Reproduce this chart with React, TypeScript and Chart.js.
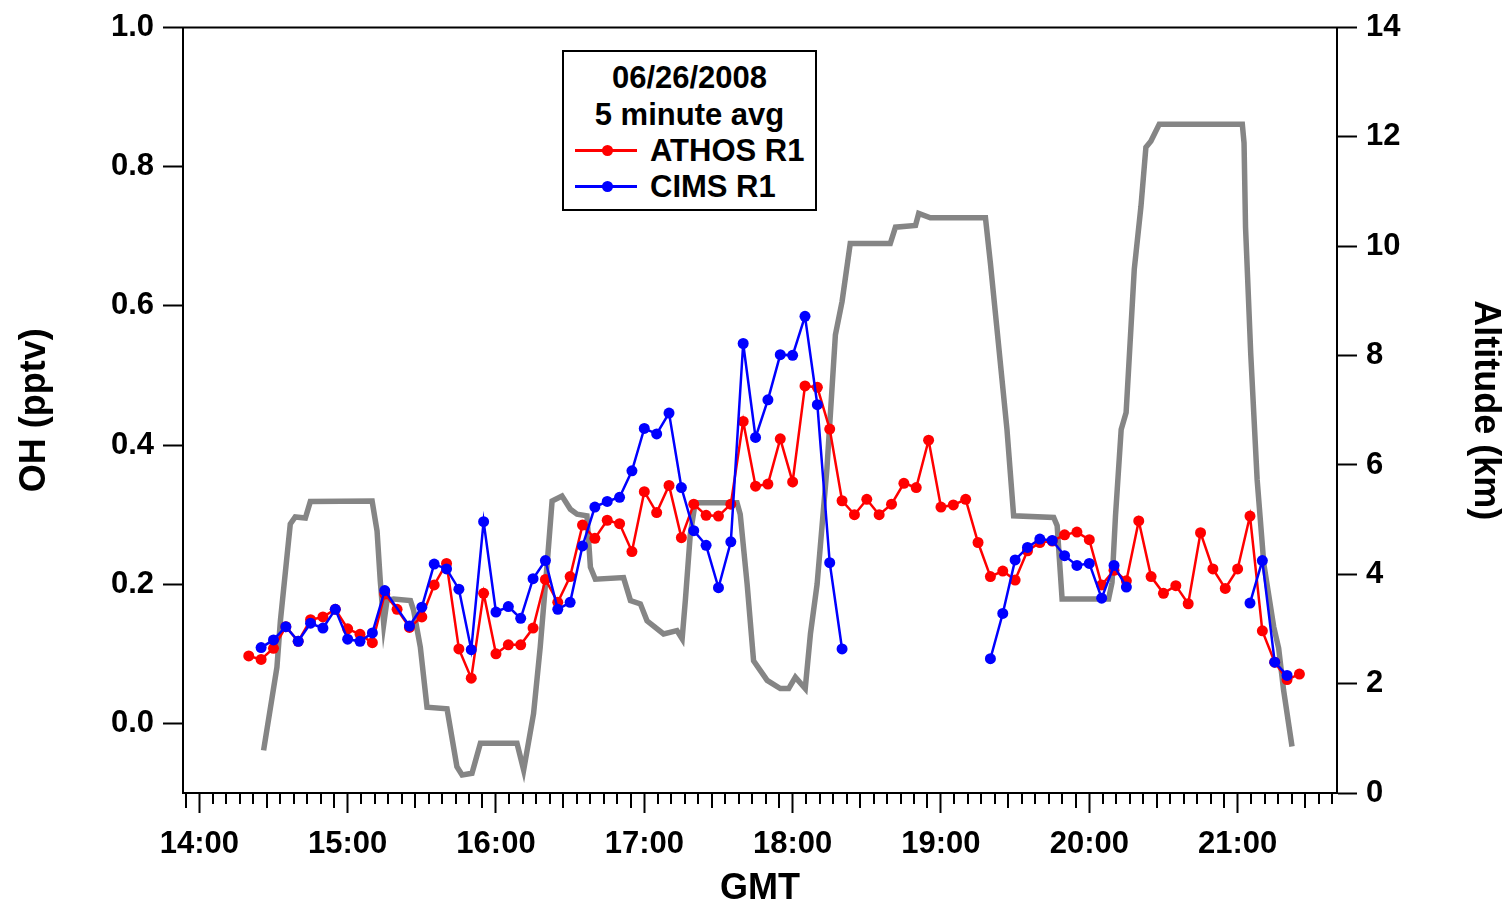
import React, { useEffect, useRef } from "react";
import { Chart, registerables } from "chart.js";

Chart.register(...registerables);

// ---- data ----
const ohTimes = [
  "14:20", "14:25", "14:30", "14:35", "14:40", "14:45", "14:50", "14:55",
  "15:00", "15:05", "15:10", "15:15", "15:20", "15:25", "15:30", "15:35", "15:40", "15:45", "15:50", "15:55",
  "16:00", "16:05", "16:10", "16:15", "16:20", "16:25", "16:30", "16:35", "16:40", "16:45", "16:50", "16:55",
  "17:00", "17:05", "17:10", "17:15", "17:20", "17:25", "17:30", "17:35", "17:40", "17:45", "17:50", "17:55",
  "18:00", "18:05", "18:10", "18:15", "18:20", "18:25", "18:30", "18:35", "18:40", "18:45", "18:50", "18:55",
  "19:00", "19:05", "19:10", "19:15", "19:20", "19:25", "19:30", "19:35", "19:40", "19:45", "19:50", "19:55",
  "20:00", "20:05", "20:10", "20:15", "20:20", "20:25", "20:30", "20:35", "20:40", "20:45", "20:50", "20:55",
  "21:00", "21:05", "21:10", "21:15", "21:20", "21:25",
];

const athosR1 = [
  0.097, 0.092, 0.108, 0.139, 0.118, 0.149, 0.153, 0.164,
  0.136, 0.128, 0.116, 0.186, 0.164, 0.138, 0.153, 0.199, 0.230, 0.107, 0.065, 0.187,
  0.100, 0.113, 0.113, 0.137, 0.207, 0.174, 0.211, 0.285, 0.266, 0.292, 0.287, 0.247,
  0.333, 0.303, 0.342, 0.267, 0.315, 0.299, 0.298, 0.315, 0.434, 0.341, 0.344, 0.409,
  0.347, 0.485, 0.483, 0.423, 0.320, 0.300, 0.322, 0.300, 0.315, 0.345, 0.339, 0.407,
  0.311, 0.314, 0.322, 0.260, 0.211, 0.219, 0.206, 0.248, 0.260, 0.262, 0.271, 0.275,
  0.264, 0.199, 0.220, 0.205, 0.291, 0.211, 0.187, 0.198, 0.172, 0.274, 0.222, 0.194,
  0.222, 0.298, 0.133, 0.088, 0.063, 0.071,
];

const cimsR1: (number | null)[] = [
  null, 0.109, 0.120, 0.139, 0.118, 0.144, 0.137, 0.164,
  0.121, 0.118, 0.130, 0.191, null, 0.140, 0.167, 0.229, 0.222, 0.193, 0.106, 0.290,
  0.160, 0.168, 0.151, 0.208, 0.234, 0.164, 0.174, 0.255, 0.311, 0.319, 0.325, 0.363,
  0.424, 0.416, 0.446, 0.339, 0.277, 0.256, 0.195, 0.261, 0.546, 0.411, 0.465, 0.530,
  0.529, 0.585, 0.458, 0.231, 0.107, null, null, null, null, null, null, null,
  null, null, null, null, 0.093, 0.158, 0.235, 0.253, 0.265, 0.263, 0.241, 0.227,
  0.230, 0.180, 0.227, 0.196, null, null, null, null, null, null, null, null,
  null, 0.173, 0.234, 0.088, 0.069, null,
];

// altitude trace vertices: minutes after 14:00 GMT, km
const altMinutes = [
  26.0, 31.4, 32.8, 36.8, 38.8, 42.9, 44.9, 69.9, 71.9, 73.2, 74.6, 75.9, 78.6, 85.4, 86.7, 89.4,
  92.1, 100.2, 104.2, 106.3, 110.3, 113.7, 128.5, 131.2, 135.2, 137.9, 140.7, 142.7, 146.7, 150.1,
  152.8, 156.8, 158.2, 160.2, 171.6, 174.4, 178.4, 181.1, 187.8, 193.2, 195.3, 196.6, 198.6, 200.6,
  217.5, 218.8, 221.6, 224.2, 229.7, 235.0, 238.4, 241.1, 245.1, 247.2, 249.9, 253.9, 257.3, 260.0,
  263.3, 279.5, 281.6, 289.7, 291.0, 295.7, 318.0, 320.0, 322.7, 326.7, 329.4, 345.6, 347.0, 349.0,
  367.8, 369.2, 370.6, 372.9, 374.9, 378.2, 380.9, 382.9, 384.9, 388.3, 421.9, 422.6, 423.2, 425.3,
  427.9, 430.6, 434.6, 436.6, 438.6, 442.0,
];
const altKm = [
  0.78, 2.30, 3.15, 4.92, 5.05, 5.03, 5.33, 5.34, 4.79, 3.88, 3.09, 3.52, 3.55, 3.52, 3.34, 2.67,
  1.57, 1.54, 0.48, 0.33, 0.36, 0.91, 0.91, 0.42, 1.45, 2.67, 4.19, 5.34, 5.43, 5.19,
  5.10, 5.07, 4.13, 3.91, 3.94, 3.52, 3.46, 3.15, 2.91, 2.97, 2.82, 3.52, 4.73, 5.31,
  5.31, 5.10, 3.82, 2.42, 2.06, 1.91, 1.91, 2.12, 1.91, 2.91, 3.82, 5.95, 8.38, 8.99,
  10.05, 10.05, 10.35, 10.38, 10.60, 10.52, 10.52, 9.69, 8.47, 6.65, 5.07, 5.04, 4.89, 3.55,
  3.55, 3.85, 5.07, 6.65, 6.96, 9.58, 10.73, 11.81, 11.92, 12.23, 12.23, 11.89, 10.35, 8.04,
  5.73, 4.19, 3.04, 2.65, 1.88, 0.85,
];

const xTickLabels = ["14:00", "15:00", "16:00", "17:00", "18:00", "19:00", "20:00", "21:00"];
const ohTicks = [0.0, 0.2, 0.4, 0.6, 0.8, 1.0];
const altTicks = [0, 2, 4, 6, 8, 10, 12, 14];

const legendTitle = ["06/26/2008", "5 minute avg"];
const seriesNames = ["ATHOS R1", "CIMS R1"];
const xTitle = "GMT";
const yTitle = "OH (pptv)";
const y1Title = "Altitude (km)";

// ---- helpers ----
const FONT = '"Liberation Sans", Arial, Helvetica, sans-serif';
const toMin = (t: string) => {
  const [h, m] = t.split(":").map(Number);
  return (h - 14) * 60 + m;
};
const X_MIN = -6.6;
const X_MAX = 460.2;

const framePlugin = {
  id: "frameAndMinorTicks",
  afterDraw(chart: any) {
    const { ctx, chartArea } = chart;
    const xs = chart.scales.x;
    ctx.save();
    ctx.strokeStyle = "#000";
    ctx.lineWidth = 2;
    ctx.beginPath();
    ctx.moveTo(chartArea.left - 1, chartArea.top);
    ctx.lineTo(chartArea.right + 1, chartArea.top);
    ctx.stroke();
    // minor ticks (11 subdivisions per hour)
    for (let h = -1; h <= 7; h++) {
      for (let k = 1; k <= 10; k++) {
        const m = h * 60 + (k * 60) / 11;
        if (m < X_MIN || m > X_MAX) continue;
        const px = Math.round(xs.getPixelForValue(m));
        const len = k === 5 || k === 10 ? 15 : 11;
        ctx.beginPath();
        ctx.moveTo(px, chartArea.bottom);
        ctx.lineTo(px, chartArea.bottom + len);
        ctx.stroke();
      }
    }
    ctx.restore();
  },
};

export default function App() {
  const canvasRef = useRef<HTMLCanvasElement | null>(null);

  useEffect(() => {
    if (!canvasRef.current) return;
    const athosPts = ohTimes.map((t, i) => ({ x: toMin(t), y: athosR1[i] }));
    const cimsPts = ohTimes
      .map((t, i) => ({ x: toMin(t), y: cimsR1[i] }))
      .filter((p) => p.y !== null);
    const altPts = altMinutes.map((m, i) => ({ x: m, y: altKm[i] }));

    const tickFont = { family: FONT, size: 31, weight: "bold" as const };
    const titleFont = { family: FONT, size: 36, weight: "bold" as const };

    const chart = new Chart(canvasRef.current, {
      type: "line",
      data: {
        datasets: [
          {
            label: seriesNames[1],
            data: cimsPts as any,
            borderColor: "#0000ff",
            backgroundColor: "#0000ff",
            pointBackgroundColor: "#0000ff",
            pointBorderColor: "#0000ff",
            borderWidth: 2.5,
            pointRadius: 5.5,
            pointBorderWidth: 0,
            spanGaps: 12,
            order: 0,
            yAxisID: "y",
          },
          {
            label: seriesNames[0],
            data: athosPts as any,
            borderColor: "#ff0000",
            backgroundColor: "#ff0000",
            pointBackgroundColor: "#ff0000",
            pointBorderColor: "#ff0000",
            borderWidth: 2.5,
            pointRadius: 5.5,
            pointBorderWidth: 0,
            order: 1,
            yAxisID: "y",
          },
          {
            label: "Altitude",
            data: altPts as any,
            borderColor: "#858585",
            borderWidth: 5.5,
            pointRadius: 0,
            order: 2,
            yAxisID: "y1",
          },
        ],
      },
      options: {
        responsive: false,
        animation: false,
        devicePixelRatio: 1,
        layout: { padding: { top: 24, left: 0, right: 0, bottom: 0 } },
        plugins: { legend: { display: false }, tooltip: { enabled: false } },
        scales: {
          x: {
            type: "linear",
            position: "bottom",
            min: X_MIN,
            max: X_MAX,
            afterBuildTicks: (s: any) => {
              s.ticks = xTickLabels.map((l) => ({ value: toMin(l) }));
            },
            afterFit: (s: any) => {
              s.height = 115;
            },
            grid: { drawOnChartArea: false, tickLength: 20, tickWidth: 2, tickColor: "#000" },
            border: { display: true, color: "#000", width: 2 },
            ticks: {
              padding: 13,
              color: "#000",
              font: tickFont,
              maxRotation: 0,
              autoSkip: false,
              callback: (v: any) => xTickLabels.find((l) => toMin(l) === v) ?? "",
            },
            title: { display: true, text: xTitle, color: "#000", font: titleFont, padding: { top: 0, bottom: -3 } },
          },
          y: {
            type: "linear",
            position: "left",
            min: -0.1,
            max: 1.0,
            afterBuildTicks: (s: any) => {
              s.ticks = ohTicks.map((v) => ({ value: v }));
            },
            afterFit: (s: any) => {
              s.width = 183;
            },
            grid: { drawOnChartArea: false, tickLength: 20, tickWidth: 2, tickColor: "#000" },
            border: { display: true, color: "#000", width: 2 },
            ticks: {
              padding: 9,
              color: "#000",
              font: tickFont,
              callback: (v: any) => Number(v).toFixed(1),
            },
            title: { display: true, text: yTitle, color: "#000", font: titleFont, padding: { top: 13, bottom: 0 } },
          },
          y1: {
            type: "linear",
            position: "right",
            min: 0,
            max: 14,
            afterBuildTicks: (s: any) => {
              s.ticks = altTicks.map((v) => ({ value: v }));
            },
            afterFit: (s: any) => {
              s.width = 172;
            },
            grid: { drawOnChartArea: false, tickLength: 20, tickWidth: 2, tickColor: "#000" },
            border: { display: true, color: "#000", width: 2 },
            ticks: {
              padding: 9,
              color: "#000",
              font: tickFont,
              callback: (v: any) => String(v),
            },
            title: { display: true, text: y1Title, color: "#000", font: titleFont, padding: { top: 2, bottom: 0 } },
          },
        },
      } as any,
      plugins: [framePlugin],
    });
    return () => chart.destroy();
  }, []);

  const legendText: React.CSSProperties = {
    position: "absolute",
    fontFamily: FONT,
    fontWeight: "bold",
    fontSize: 31,
    lineHeight: "37px",
    color: "#000",
    whiteSpace: "nowrap",
  };

  const sample = (color: string, top: number) => (
    <>
      <div style={{ position: "absolute", left: 11, top: top - 1, width: 62, height: 2.5, background: color }} />
      <div
        style={{
          position: "absolute",
          left: 43 - 5.5,
          top: top - 5.5 + 0.25,
          width: 11,
          height: 11,
          borderRadius: "50%",
          background: color,
        }}
      />
    </>
  );

  return (
    <div style={{ position: "fixed", left: 0, top: 0, width: 1509, height: 908, background: "#fff" }}>
      <canvas ref={canvasRef} width={1509} height={908} style={{ width: 1509, height: 908, display: "block" }} />
      <div
        style={{
          position: "absolute",
          left: 562,
          top: 50,
          width: 255,
          height: 161,
          boxSizing: "border-box",
          border: "2px solid #000",
          background: "#fff",
        }}
      >
        <div style={{ ...legendText, left: 0, width: 251, textAlign: "center", top: 7 }}>{legendTitle[0]}</div>
        <div style={{ ...legendText, left: 0, width: 251, textAlign: "center", top: 44 }}>{legendTitle[1]}</div>
        {sample("#ff0000", 98)}
        <div style={{ ...legendText, left: 86, top: 80 }}>{seriesNames[0]}</div>
        {sample("#0000ff", 134)}
        <div style={{ ...legendText, left: 86, top: 116 }}>{seriesNames[1]}</div>
      </div>
    </div>
  );
}
